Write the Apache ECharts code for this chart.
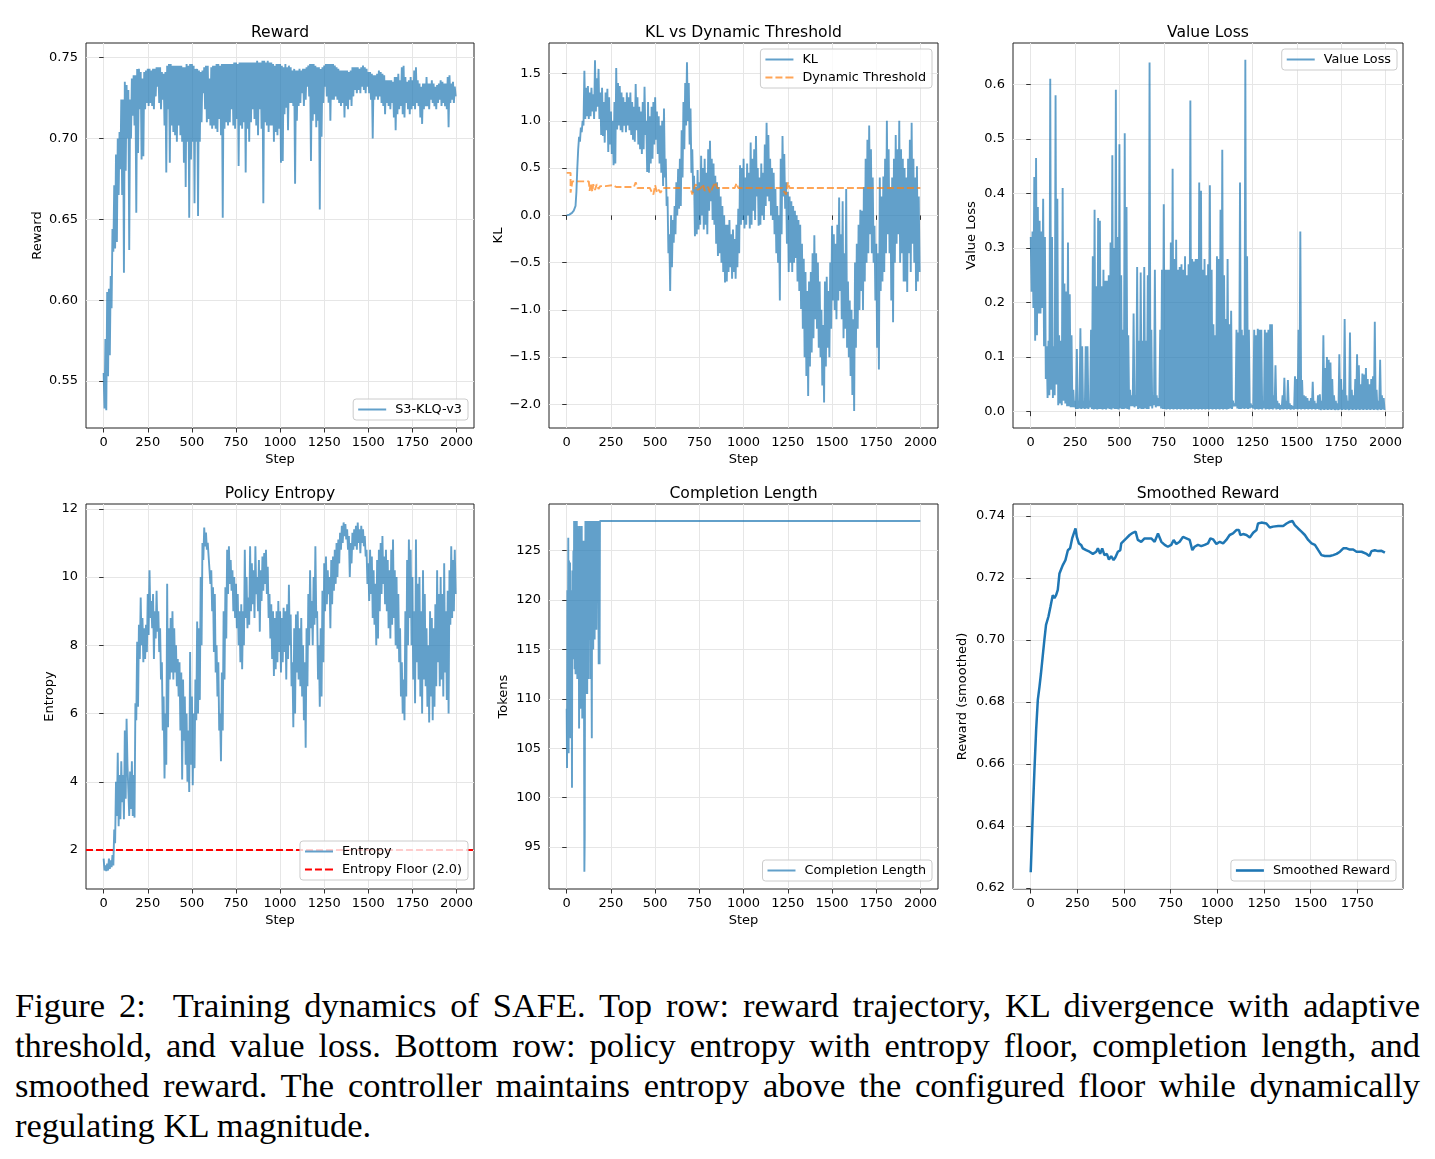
<!DOCTYPE html>
<html>
<head>
<meta charset="utf-8">
<title>Training dynamics of SAFE</title>
<script src="https://cdn.jsdelivr.net/npm/echarts@6.0.0/dist/echarts.min.js"></script>
<style>
  html, body { margin: 0; padding: 0; background: #fff; }
  #chart { width: 1435px; height: 960px; }
  #caption { position: absolute; left: 15px; top: 985px; width: 1405px;
    font-family: "Liberation Serif", serif; font-size: 34.5px; line-height: 40px; color: #000; }
  #caption div { text-align: justify; text-align-last: justify; white-space: nowrap; }
  #caption div.last { text-align-last: left; }
</style>
</head>
<body>
<div id="chart"></div>
<div id="caption">
  <div>Figure 2:&nbsp; Training dynamics of SAFE. Top row: reward trajectory, KL divergence with adaptive</div>
  <div>threshold, and value loss. Bottom row: policy entropy with entropy floor, completion length, and</div>
  <div>smoothed reward. The controller maintains entropy above the configured floor while dynamically</div>
  <div class="last">regulating KL magnitude.</div>
</div>
<script>
// raw series are sampled every 5 steps (high / low of each 10-step window)
const stepSize = 5

const rewardValues = [
  0.555,0.533, 0.576,0.532, 0.605,0.553, 0.607,0.566, 0.615,0.595,
  0.644,0.630, 0.671,0.632, 0.690,0.636, 0.700,0.665, 0.704,0.681,
  0.724,0.665, 0.724,0.617, 0.735,0.680, 0.733,0.700, 0.730,0.631,
  0.724,0.700, 0.737,0.714, 0.739,0.708, 0.739,0.654, 0.743,0.691,
  0.743,0.718, 0.741,0.687, 0.737,0.689, 0.741,0.718, 0.742,0.722,
  0.743,0.720, 0.743,0.722, 0.742,0.720, 0.743,0.718, 0.743,0.726,
  0.744,0.732, 0.744,0.722, 0.744,0.718, 0.741,0.724, 0.740,0.708,
  0.741,0.679, 0.745,0.718, 0.746,0.685, 0.746,0.708, 0.745,0.704,
  0.745,0.702, 0.745,0.698, 0.745,0.708, 0.745,0.702, 0.745,0.698,
  0.744,0.685, 0.744,0.670, 0.746,0.698, 0.745,0.651, 0.746,0.687,
  0.746,0.698, 0.745,0.660, 0.743,0.698, 0.743,0.652, 0.742,0.698,
  0.741,0.710, 0.742,0.728, 0.744,0.718, 0.745,0.710, 0.745,0.712,
  0.737,0.708, 0.744,0.706, 0.745,0.708, 0.745,0.706, 0.746,0.704,
  0.746,0.712, 0.745,0.702, 0.746,0.651, 0.746,0.706, 0.746,0.710,
  0.746,0.708, 0.746,0.710, 0.746,0.718, 0.746,0.708, 0.747,0.706,
  0.747,0.712, 0.746,0.683, 0.747,0.708, 0.747,0.706, 0.747,0.710,
  0.747,0.679, 0.747,0.706, 0.747,0.698, 0.747,0.710, 0.747,0.718,
  0.747,0.712, 0.747,0.708, 0.748,0.702, 0.747,0.718, 0.747,0.706,
  0.748,0.660, 0.748,0.710, 0.747,0.708, 0.748,0.704, 0.747,0.708,
  0.747,0.708, 0.746,0.698, 0.745,0.704, 0.746,0.702, 0.746,0.706,
  0.746,0.685, 0.745,0.686, 0.744,0.715, 0.746,0.719, 0.744,0.705,
  0.745,0.722, 0.744,0.722, 0.742,0.720, 0.743,0.672, 0.742,0.711,
  0.742,0.720, 0.743,0.722, 0.742,0.728, 0.743,0.720, 0.743,0.724,
  0.744,0.732, 0.745,0.726, 0.746,0.686, 0.746,0.711, 0.746,0.715,
  0.745,0.707, 0.744,0.711, 0.744,0.656, 0.743,0.701, 0.744,0.722,
  0.745,0.732, 0.746,0.726, 0.746,0.722, 0.746,0.711, 0.746,0.724,
  0.746,0.724, 0.745,0.726, 0.744,0.724, 0.743,0.722, 0.742,0.720,
  0.742,0.722, 0.742,0.713, 0.742,0.720, 0.742,0.718, 0.741,0.724,
  0.742,0.720, 0.744,0.726, 0.744,0.730, 0.744,0.728, 0.744,0.730,
  0.743,0.728, 0.744,0.732, 0.745,0.730, 0.744,0.728, 0.743,0.732,
  0.741,0.728, 0.741,0.724, 0.740,0.700, 0.739,0.724, 0.739,0.726,
  0.740,0.724, 0.742,0.726, 0.741,0.722, 0.740,0.720, 0.739,0.715,
  0.736,0.722, 0.736,0.720, 0.736,0.718, 0.736,0.722, 0.735,0.713,
  0.738,0.705, 0.738,0.715, 0.740,0.718, 0.736,0.720, 0.744,0.715,
  0.745,0.713, 0.738,0.722, 0.735,0.718, 0.736,0.715, 0.738,0.718,
  0.736,0.720, 0.742,0.718, 0.744,0.722, 0.736,0.720, 0.734,0.713,
  0.732,0.709, 0.734,0.718, 0.734,0.720, 0.738,0.720, 0.734,0.718,
  0.734,0.724, 0.736,0.722, 0.734,0.720, 0.732,0.718, 0.733,0.722,
  0.734,0.724, 0.736,0.720, 0.735,0.722, 0.734,0.720, 0.734,0.718,
  0.738,0.707, 0.739,0.722, 0.734,0.724, 0.735,0.722, 0.732,0.726
]

const klValues = [
  0.0, 0.002, 0.005, 0.008, 0.012, 0.018, 0.026, 0.036, 0.05, 0.07,
  0.10, 0.25, 0.50, 0.70, 0.83, 0.78, 0.93, 0.88, 1.00, 0.95,
  1.53,1.02, 1.35,1.05, 1.37,1.02, 1.30,1.05, 1.35,1.10,
  1.28,1.02, 1.64,1.10, 1.45,1.15, 1.55,1.02, 1.30,0.85,
  1.35,0.84, 1.20,0.77, 1.30,0.90, 1.34,0.67, 1.25,0.75,
  1.10,0.65, 1.00,0.53, 1.20,0.55, 1.56,0.91, 1.40,0.95,
  1.37,0.90, 1.30,0.88, 1.25,0.95, 1.20,0.88, 1.30,0.95,
  1.25,0.90, 1.30,0.85, 1.20,0.80, 1.15,0.78, 1.39,0.90,
  1.25,0.75, 1.15,0.70, 1.10,0.65, 1.20,0.70, 1.36,0.85,
  1.00,0.46, 1.20,0.45, 1.05,0.55, 1.15,0.60, 1.20,0.75,
  1.25,0.80, 1.10,0.65, 1.05,0.55, 0.95,0.45, 1.00,0.31,
  1.13,0.40, 0.60,0.10, 0.20,-0.40, -0.20,-0.80, 0.00,-0.55,
  -0.05,-0.29, 0.10,-0.20, 0.35,0.00, 0.49,0.07, 0.60,0.10,
  0.90,0.40, 1.20,0.70, 1.40,0.95, 1.62,1.00, 1.40,0.75,
  1.13,0.45, 0.70,0.24, 0.42,-0.22, 0.30,-0.20, 0.48,-0.15,
  0.35,-0.10, 0.63,0.00, 0.50,-0.15, 0.60,-0.10, 0.45,-0.20,
  0.70,0.05, 0.79,0.15, 0.60,-0.05, 0.55,-0.10, 0.42,-0.30,
  0.35,-0.43, 0.30,-0.40, 0.20,-0.50, 0.10,-0.60, 0.00,-0.71,
  -0.10,-0.70, -0.10,-0.60, -0.05,-0.55, -0.20,-0.67, -0.15,-0.60,
  -0.25,-0.67, -0.10,-0.55, 0.07,-0.40, 0.53,-0.10, 0.50,-0.05,
  0.60,-0.14, 0.40,-0.10, 0.55,0.00, 0.45,-0.14, 0.77,-0.10,
  0.60,0.05, 0.70,-0.05, 0.84,0.20, 0.50,-0.11, 0.40,-0.10,
  0.55,0.00, 0.45,-0.05, 0.75,0.10, 0.98,0.20, 0.85,0.15,
  0.60,0.00, 0.50,-0.05, 0.45,-0.20, 0.28,-0.40, 0.10,-0.50,
  0.00,-0.90, 0.60,-0.20, 0.84,0.20, 0.65,0.07, 0.35,-0.30,
  0.25,-0.60, 0.20,-0.50, 0.15,-0.60, 0.10,-0.50, 0.05,-0.45,
  0.00,-0.70, -0.05,-0.80, -0.10,-0.99, -0.30,-1.20, -0.46,-1.50,
  -0.60,-1.70, -0.80,-1.91, -0.70,-1.60, -0.60,-1.45, -0.40,-1.30,
  -0.21,-1.10, -0.40,-1.20, -0.50,-1.40, -0.70,-1.50, -1.00,-1.80,
  -1.16,-1.98, -0.70,-1.60, -0.65,-1.40, -0.80,-1.50, -0.50,-1.20,
  -0.11,-0.90, -0.20,-1.00, -0.30,-1.10, -0.10,-0.90, 0.19,-0.80,
  -0.20,-1.10, 0.15,-1.30, -0.40,-1.20, 0.28,-1.40, -0.70,-1.50,
  -0.90,-1.70, -1.00,-1.90, -1.10,-2.07, -0.50,-1.40, -0.30,-1.20,
  -0.10,-1.00, 0.06,-0.80, 0.05,-1.00, 0.30,-0.70, 0.60,-0.50,
  0.80,-0.40, 0.95,-0.20, 0.70,-0.40, 0.40,-0.50, -0.11,-0.90,
  -0.30,-1.40, -0.40,-1.63, 0.40,-0.80, 0.20,-0.70, 0.41,-0.60,
  0.60,-0.40, 1.00,-0.20, 0.70,-0.40, 0.30,-0.90, 0.40,-1.13,
  0.60,-0.50, 0.85,-0.30, 0.70,-0.20, 1.00,-0.50, 0.70,-0.40,
  0.60,-0.70, 0.50,-0.70, 0.40,-0.81, 0.60,-0.40, 0.80,-0.60,
  0.98,-0.30, 0.60,-0.50, 0.40,-0.80, 0.52,-0.70, 0.20,-0.60
]

// dynamic threshold only changes at a few steps
const thresholdSteps = [0, 22, 22, 32, 32, 125, 130, 135, 145, 150, 160, 170, 180, 190, 200, 220, 260, 270, 280, 380, 390, 400, 470, 480, 490, 500, 510, 520, 530, 545, 700, 710, 720, 730, 740, 760, 770, 780, 800, 810, 840, 850, 950, 960, 970, 1220, 1230, 1240, 1250, 1260, 1999]
const thresholdValues = [0.45, 0.45, 0.24, 0.24, 0.36, 0.36, 0.26, 0.34, 0.25, 0.33, 0.27, 0.33, 0.28, 0.31, 0.29, 0.31, 0.32, 0.34, 0.30, 0.30, 0.35, 0.29, 0.29, 0.25, 0.22, 0.32, 0.24, 0.27, 0.24, 0.29, 0.29, 0.22, 0.29, 0.33, 0.27, 0.29, 0.33, 0.26, 0.30, 0.24, 0.35, 0.29, 0.29, 0.34, 0.29, 0.29, 0.25, 0.22, 0.35, 0.29, 0.29]

const valueLossValues = [
  0.32,0.22, 0.33,0.19, 0.43,0.13, 0.465,0.14, 0.375,0.18,
  0.35,0.18, 0.33,0.19, 0.39,0.12, 0.32,0.06, 0.12,0.025,
  0.13,0.03, 0.61,0.04, 0.32,0.025, 0.12,0.03, 0.58,0.05,
  0.39,0.012, 0.14,0.015, 0.13,0.012, 0.41,0.02, 0.235,0.015,
  0.22,0.01, 0.31,0.01, 0.215,0.008, 0.14,0.008, 0.04,0.008,
  0.02,0.005, 0.115,0.005, 0.02,0.006, 0.153,0.005, 0.12,0.006,
  0.02,0.005, 0.12,0.006, 0.12,0.005, 0.02,0.008, 0.15,0.005,
  0.285,0.004, 0.37,0.005, 0.23,0.004, 0.355,0.005, 0.35,0.005,
  0.23,0.004, 0.26,0.005, 0.24,0.004, 0.24,0.006, 0.25,0.005,
  0.31,0.004, 0.47,0.006, 0.30,0.005, 0.59,0.005, 0.32,0.004,
  0.49,0.006, 0.25,0.005, 0.15,0.005, 0.51,0.006, 0.375,0.005,
  0.14,0.004, 0.04,0.01, 0.03,0.01, 0.18,0.008, 0.03,0.01,
  0.265,0.005, 0.13,0.006, 0.255,0.005, 0.13,0.005, 0.265,0.006,
  0.13,0.005, 0.25,0.005, 0.64,0.01, 0.15,0.006, 0.03,0.012,
  0.26,0.008, 0.03,0.01, 0.025,0.01, 0.15,0.006, 0.26,0.005,
  0.38,0.005, 0.26,0.004, 0.26,0.005, 0.26,0.004, 0.31,0.005,
  0.445,0.004, 0.28,0.005, 0.315,0.004, 0.26,0.005, 0.265,0.004,
  0.27,0.005, 0.26,0.004, 0.285,0.005, 0.25,0.004, 0.27,0.005,
  0.57,0.004, 0.28,0.005, 0.275,0.004, 0.28,0.005, 0.28,0.004,
  0.42,0.005, 0.405,0.004, 0.26,0.005, 0.28,0.004, 0.25,0.005,
  0.27,0.004, 0.415,0.005, 0.26,0.004, 0.16,0.005, 0.14,0.004,
  0.285,0.005, 0.28,0.004, 0.37,0.005, 0.48,0.004, 0.25,0.005,
  0.17,0.004, 0.28,0.005, 0.16,0.006, 0.185,0.005, 0.02,0.01,
  0.015,0.01, 0.15,0.006, 0.145,0.005, 0.42,0.005, 0.15,0.006,
  0.14,0.005, 0.645,0.006, 0.285,0.005, 0.15,0.006, 0.015,0.008,
  0.012,0.006, 0.15,0.004, 0.14,0.005, 0.152,0.004, 0.15,0.005,
  0.15,0.004, 0.02,0.006, 0.15,0.004, 0.145,0.005, 0.15,0.004,
  0.16,0.005, 0.16,0.004, 0.03,0.006, 0.085,0.004, 0.02,0.005,
  0.015,0.004, 0.012,0.005, 0.03,0.004, 0.062,0.005, 0.02,0.004,
  0.058,0.005, 0.015,0.004, 0.012,0.005, 0.01,0.004, 0.065,0.005,
  0.06,0.004, 0.15,0.005, 0.33,0.004, 0.058,0.005, 0.03,0.004,
  0.028,0.005, 0.025,0.004, 0.02,0.005, 0.025,0.004, 0.055,0.005,
  0.02,0.004, 0.015,0.005, 0.03,0.004, 0.032,0.003, 0.02,0.004,
  0.14,0.003, 0.08,0.004, 0.1,0.003, 0.095,0.004, 0.09,0.003,
  0.06,0.004, 0.03,0.003, 0.02,0.004, 0.015,0.003, 0.105,0.004,
  0.06,0.003, 0.04,0.004, 0.17,0.003, 0.03,0.004, 0.02,0.003,
  0.145,0.004, 0.04,0.003, 0.03,0.004, 0.06,0.003, 0.105,0.004,
  0.085,0.003, 0.05,0.004, 0.07,0.003, 0.068,0.004, 0.08,0.003,
  0.06,0.004, 0.05,0.003, 0.06,0.004, 0.065,0.003, 0.165,0.004,
  0.04,0.003, 0.02,0.004, 0.095,0.003, 0.03,0.004, 0.025,0.003
]

const entropyValues = [
  1.75,1.40, 1.55,1.38, 1.60,1.40, 1.75,1.45, 1.70,1.50,
  1.85,1.55, 2.60,2.20, 4.00,3.00, 4.85,2.70, 4.20,2.90,
  4.60,3.40, 4.20,2.90, 5.50,3.50, 5.85,4.50, 4.50,3.00,
  4.30,3.20, 4.60,3.00, 4.20,2.95, 6.30,5.80, 8.10,6.20,
  8.60,7.60, 9.40,8.00, 8.80,7.50, 8.50,7.60, 8.60,7.80,
  9.50,8.30, 10.20,8.80, 9.30,8.50, 9.50,7.60, 9.00,8.20,
  9.60,8.40, 9.00,7.80, 8.50,7.00, 7.50,5.50, 6.50,4.10,
  6.00,4.50, 9.80,5.60, 8.50,7.00, 8.80,7.20, 9.00,7.00,
  8.50,7.20, 8.00,6.80, 7.60,6.50, 7.50,5.50, 7.20,4.07,
  7.00,5.20, 6.50,4.50, 6.00,4.00, 5.50,3.70, 7.80,4.50,
  6.50,3.90, 6.00,4.40, 7.00,5.80, 8.70,6.00, 8.50,6.40,
  10.00,8.00, 11.00,10.50, 11.45,10.90, 11.30,10.80, 11.00,10.60,
  10.60,9.80, 10.20,9.00, 9.70,7.80, 9.50,7.20, 8.00,6.50,
  7.50,5.50, 6.00,4.60, 7.20,5.50, 9.00,7.00, 9.70,8.20,
  10.80,9.50, 10.90,9.80, 10.50,9.60, 10.20,9.00, 10.00,8.80,
  9.80,8.50, 9.50,8.00, 9.00,7.50, 9.20,7.30, 9.00,8.00,
  10.80,8.80, 10.00,8.50, 9.40,8.60, 10.90,9.00, 10.40,9.20,
  10.20,8.80, 10.90,9.50, 10.00,9.00, 10.50,8.40, 10.20,9.30,
  10.60,9.60, 10.70,9.80, 10.80,9.50, 10.30,8.80, 9.50,8.20,
  9.20,7.60, 9.00,7.10, 8.80,7.30, 9.00,7.50, 9.30,7.80,
  9.00,7.20, 8.80,7.50, 9.10,7.80, 9.00,7.00, 9.20,7.60,
  9.77,8.00, 8.90,6.80, 7.50,5.60, 8.50,6.00, 8.90,7.20,
  9.00,7.00, 8.50,6.80, 8.80,6.50, 8.00,5.80, 7.50,5.00,
  8.50,6.80, 9.50,8.00, 10.20,8.50, 9.30,8.00, 10.00,8.60,
  10.90,8.80, 9.00,7.00, 8.00,6.20, 8.50,6.50, 9.60,7.50,
  10.40,9.00, 10.60,9.20, 10.20,9.50, 10.00,8.50, 10.50,9.20,
  10.60,9.60, 10.80,9.80, 11.00,10.00, 11.10,10.40, 11.30,10.80,
  11.50,11.00, 11.60,11.20, 11.55,11.10, 11.40,10.80, 11.20,10.00,
  11.00,10.40, 11.30,10.80, 11.40,10.90, 11.50,10.80, 11.60,11.00,
  11.40,10.70, 11.50,11.00, 11.40,10.90, 11.20,10.60, 10.80,9.80,
  10.40,9.30, 10.80,9.50, 10.60,8.80, 10.20,8.60, 9.80,8.00,
  10.50,8.20, 10.80,9.00, 11.00,9.50, 11.20,9.80, 10.60,9.20,
  10.80,9.00, 10.50,8.50, 10.20,8.20, 10.80,8.60, 11.10,8.80,
  10.20,8.00, 10.00,7.90, 9.50,7.50, 8.50,6.50, 7.50,6.00,
  7.00,5.80, 9.00,6.50, 10.50,8.00, 11.10,8.80, 10.80,8.00,
  10.00,7.00, 9.00,6.30, 11.10,7.50, 9.80,7.00, 10.00,6.50,
  9.00,6.00, 10.20,7.00, 9.50,6.80, 8.50,6.20, 8.00,5.74,
  9.00,6.50, 8.80,5.80, 8.50,6.20, 9.20,6.80, 10.20,7.50,
  9.50,6.80, 10.00,7.00, 9.50,6.50, 10.40,7.20, 9.00,6.40,
  9.60,6.00, 10.20,8.60, 10.90,8.80, 10.50,9.00, 10.80,9.50
]
const entropyFloor = 2.0

const lengthSteps = [0, 2, 4, 6, 9, 11, 13, 16, 19, 22, 25, 28, 30, 32, 35, 38, 40, 42, 45, 47, 50, 53, 55, 57, 60, 63, 66, 68, 70, 72, 74, 77, 79, 82, 85, 88, 90, 92, 95, 98, 100, 102, 104, 106, 108, 110, 112, 114, 116, 118, 120, 122, 124, 126, 128, 130, 132, 134, 136, 138, 140, 142, 144, 146, 148, 150, 152, 154, 156, 158, 160, 163, 166, 168, 170, 173, 176, 179, 181, 183, 186, 188, 1999]
const lengthValues = [109, 103, 121, 110, 126.3, 104.5, 124, 112, 123.8, 106, 121, 113, 101, 123, 114, 125, 116, 128, 113, 128, 112.5, 127.8, 116, 128, 112, 127.5, 119, 125, 107, 118, 127.5, 109, 126, 110, 127.5, 108, 122, 111, 126, 110, 92.5, 96, 118, 128, 110.5, 128, 119, 128, 110.5, 128, 121, 112, 128, 118, 128, 116, 128, 112, 125, 128, 114, 106, 128, 118, 128, 115, 128, 120, 128, 116, 128, 121, 128, 117, 128, 122, 128, 121, 113.5, 128, 113.5, 128, 128]

const smoothSteps = [0, 11, 20, 29, 38, 47, 55, 64, 73, 82, 95, 106, 118, 127, 136, 145, 154, 172, 186, 199, 211, 222, 234, 240, 247, 258, 270, 279, 297, 315, 333, 351, 360, 372, 383, 395, 408, 419, 431, 444, 454, 467, 480, 485, 494, 512, 530, 547, 562, 574, 592, 610, 628, 646, 664, 682, 691, 700, 718, 735, 753, 766, 780, 798, 816, 834, 852, 866, 878, 896, 914, 932, 950, 963, 977, 995, 1013, 1031, 1048, 1066, 1084, 1102, 1116, 1123, 1138, 1156, 1174, 1183, 1192, 1210, 1218, 1236, 1263, 1281, 1299, 1326, 1353, 1371, 1389, 1403, 1415, 1433, 1451, 1469, 1487, 1505, 1523, 1541, 1558, 1576, 1603, 1621, 1639, 1657, 1675, 1693, 1710, 1728, 1746, 1773, 1800, 1815, 1826, 1844, 1862, 1880, 1898]
const smoothValues = [0.6251, 0.6442, 0.6582, 0.6710, 0.6807, 0.6850, 0.6893, 0.6947, 0.7000, 0.7049, 0.7076, 0.7108, 0.7145, 0.7135, 0.7145, 0.7162, 0.7215, 0.7242, 0.7258, 0.7290, 0.7296, 0.7328, 0.7350, 0.7360, 0.7333, 0.7312, 0.7307, 0.7296, 0.7290, 0.7285, 0.7278, 0.7285, 0.7296, 0.7278, 0.7296, 0.7274, 0.7278, 0.7260, 0.7271, 0.7258, 0.7267, 0.7285, 0.7290, 0.7312, 0.7317, 0.7328, 0.7339, 0.7346, 0.7350, 0.7323, 0.7317, 0.7328, 0.7328, 0.7328, 0.7317, 0.7344, 0.7346, 0.7317, 0.7307, 0.7301, 0.7307, 0.7323, 0.7310, 0.7317, 0.7333, 0.7328, 0.7323, 0.7290, 0.7301, 0.7307, 0.7303, 0.7307, 0.7312, 0.7328, 0.7325, 0.7310, 0.7317, 0.7312, 0.7323, 0.7339, 0.7344, 0.7355, 0.7355, 0.7339, 0.7342, 0.7339, 0.7331, 0.7328, 0.7346, 0.7355, 0.7376, 0.7379, 0.7376, 0.7363, 0.7366, 0.7368, 0.7368, 0.7376, 0.7382, 0.7384, 0.7371, 0.7360, 0.7350, 0.7339, 0.7323, 0.7312, 0.7307, 0.7290, 0.7274, 0.7271, 0.7271, 0.7274, 0.7278, 0.7285, 0.7296, 0.7296, 0.7292, 0.7292, 0.7285, 0.7285, 0.7278, 0.7271, 0.7287, 0.7290, 0.7287, 0.7288, 0.7282]

// tick labels
const stepTicks = [0, 250, 500, 750, 1000, 1250, 1500, 1750, 2000]
const smoothStepTicks = [0, 250, 500, 750, 1000, 1250, 1500, 1750]
const rewardTicks = [0.55, 0.6, 0.65, 0.7, 0.75]
const klTicks = [-2.0, -1.5, -1.0, -0.5, 0.0, 0.5, 1.0, 1.5]
const valueLossTicks = [0.0, 0.1, 0.2, 0.3, 0.4, 0.5, 0.6]
const entropyTicks = [2, 4, 6, 8, 10, 12]
const lengthTicks = [95, 100, 105, 110, 115, 120, 125]
const smoothTicks = [0.62, 0.64, 0.66, 0.68, 0.70, 0.72, 0.74]

const everyStep = vals => vals.map((v, i) => [i * stepSize, v])
const zip = (xs, ys) => xs.map((x, i) => [x, ys[i]])

var chart = echarts.init(document.getElementById('chart'))
var font = 'DejaVu Sans'
var blue = '#1f77b4'
var txt = { fontFamily: font, fontSize: 13, color: '#000' }

// legend samples drawn as small bars so no marker shows
var solidIcon = 'path://M0,0h28v2h-28z'
var thickIcon = 'path://M0,0h28v2.6h-28z'
var dashIcon = 'path://M0,0h7v2h-7zM10,0h7v2h-7zM20,0h8v2h-8z'

var gridBoxes = [
  [86, 43, 388], [549, 43, 389], [1013, 43, 390],
  [86, 504, 388], [549, 504, 389], [1013, 504, 390]
]

function minus (v, d) {
  return (v < 0 ? '\u2212' : '') + Math.abs(v).toFixed(d)
}

function xAxis (i, min, max, ticks) {
  return {
    type: 'value', gridIndex: i, min: min, max: max,
    name: 'Step', nameLocation: 'middle', nameGap: 25, nameTextStyle: txt,
    axisLine: { show: false },
    axisTick: { show: true, length: 4.5, lineStyle: { color: '#333' }, customValues: ticks },
    axisLabel: Object.assign({ margin: 8, customValues: ticks, formatter: v => String(v) }, txt),
    splitLine: { show: true, lineStyle: { color: '#e6e6e6', width: 1 } }
  }
}

function yAxis (i, name, gap, min, max, ticks, d) {
  return {
    type: 'value', gridIndex: i, min: min, max: max,
    name: name, nameLocation: 'middle', nameGap: gap, nameTextStyle: txt,
    axisLine: { show: false },
    axisTick: { show: true, length: 4.5, lineStyle: { color: '#333' }, customValues: ticks },
    axisLabel: Object.assign({ margin: 8, customValues: ticks, formatter: v => minus(v, d) }, txt),
    splitLine: { show: true, lineStyle: { color: '#e6e6e6', width: 1 } }
  }
}

function line (name, i, data, color, width, opacity, dash) {
  return {
    name: name, type: 'line', xAxisIndex: i, yAxisIndex: i, data: data,
    symbol: 'none', showSymbol: false, animation: false, silent: true,
    lineStyle: { color: color, width: width, opacity: opacity, type: dash || 'solid' },
    itemStyle: { color: color, opacity: opacity },
    emphasis: { disabled: true }
  }
}

function legend (items, pos) {
  return Object.assign({
    orient: 'vertical', data: items.map(it => ({ name: it[0], icon: it[1] })), selectedMode: false, align: 'left',
    z: 20,
    backgroundColor: 'rgba(255,255,255,0.8)', borderColor: '#cccccc', borderWidth: 1, borderRadius: 3,
    padding: [4, 6, 4, 5], itemWidth: 28, itemHeight: 14, itemGap: 5,
    textStyle: { fontFamily: font, fontSize: 12.8, color: '#000', padding: [0, 0, 0, 4] }
  }, pos)
}

function title (text, x, y) {
  return {
    text: text, left: x, top: y, textAlign: 'center', padding: 0,
    textStyle: { fontFamily: font, fontSize: 15.6, fontWeight: 'normal', color: '#000' }
  }
}

var floorSeries = line('Entropy Floor (2.0)', 3, [], 'red', 1.9, 1, [7, 3])
floorSeries.z = 3
floorSeries.markLine = {
  silent: true, symbol: 'none', animation: false,
  label: { show: false },
  lineStyle: { color: 'red', width: 1.9, type: [7, 3] },
  data: [{ yAxis: entropyFloor }]
}

var option = {
  backgroundColor: '#fff',
  animation: false,
  title: [
    title('Reward', 280, 24.5),
    title('KL vs Dynamic Threshold', 743.5, 24.5),
    title('Value Loss', 1208, 24.5),
    title('Policy Entropy', 280, 485.5),
    title('Completion Length', 743.5, 485.5),
    title('Smoothed Reward', 1208, 485.5)
  ],
  grid: gridBoxes.map(g => ({
    left: g[0], top: g[1], width: g[2], height: 385,
    show: true, borderColor: '#222', borderWidth: 1, outerBoundsMode: 'none'
  })),
  xAxis: [
    xAxis(0, -100, 2099, stepTicks),
    xAxis(1, -100, 2099, stepTicks),
    xAxis(2, -100, 2099, stepTicks),
    xAxis(3, -100, 2099, stepTicks),
    xAxis(4, -100, 2099, stepTicks),
    xAxis(5, -95, 1995, smoothStepTicks)
  ],
  yAxis: [
    yAxis(0, 'Reward', 42, 0.521, 0.759, rewardTicks, 2),
    yAxis(1, 'KL', 44, -2.25, 1.824, klTicks, 1),
    yAxis(2, 'Value Loss', 35, -0.0299, 0.6756, valueLossTicks, 1),
    yAxis(3, 'Entropy', 30, 0.858, 12.14, entropyTicks, 0),
    yAxis(4, 'Tokens', 39, 90.75, 129.72, lengthTicks, 0),
    yAxis(5, 'Reward (smoothed)', 43.5, 0.6197, 0.7439, smoothTicks, 2)
  ],
  legend: [
    legend([['S3-KLQ-v3', solidIcon]], { right: 967, top: 399 }),
    legend([['KL', solidIcon], ['Dynamic Threshold', dashIcon]], { right: 503, top: 49 }),
    legend([['Value Loss', solidIcon]], { right: 38, top: 49 }),
    legend([['Entropy', solidIcon], ['Entropy Floor (2.0)', dashIcon]], { right: 967, top: 841 }),
    legend([['Completion Length', solidIcon]], { right: 503, top: 860 }),
    legend([['Smoothed Reward', thickIcon]], { right: 39, top: 860 })
  ],
  series: [
    line('S3-KLQ-v3', 0, everyStep(rewardValues), blue, 1.9, 0.7),
    line('KL', 1, everyStep(klValues), blue, 1.9, 0.7),
    line('Dynamic Threshold', 1, zip(thresholdSteps, thresholdValues), '#ff7f0e', 1.9, 0.7, [7, 3]),
    line('Value Loss', 2, everyStep(valueLossValues), blue, 1.9, 0.7),
    line('Entropy', 3, everyStep(entropyValues), blue, 1.9, 0.7),
    floorSeries,
    line('Completion Length', 4, zip(lengthSteps, lengthValues), blue, 1.9, 0.7),
    line('Smoothed Reward', 5, zip(smoothSteps, smoothValues), blue, 2.5, 1)
  ]
}

chart.setOption(option)
window.onresize = function () {
  chart.resize()
}
</script>
</body>
</html>
